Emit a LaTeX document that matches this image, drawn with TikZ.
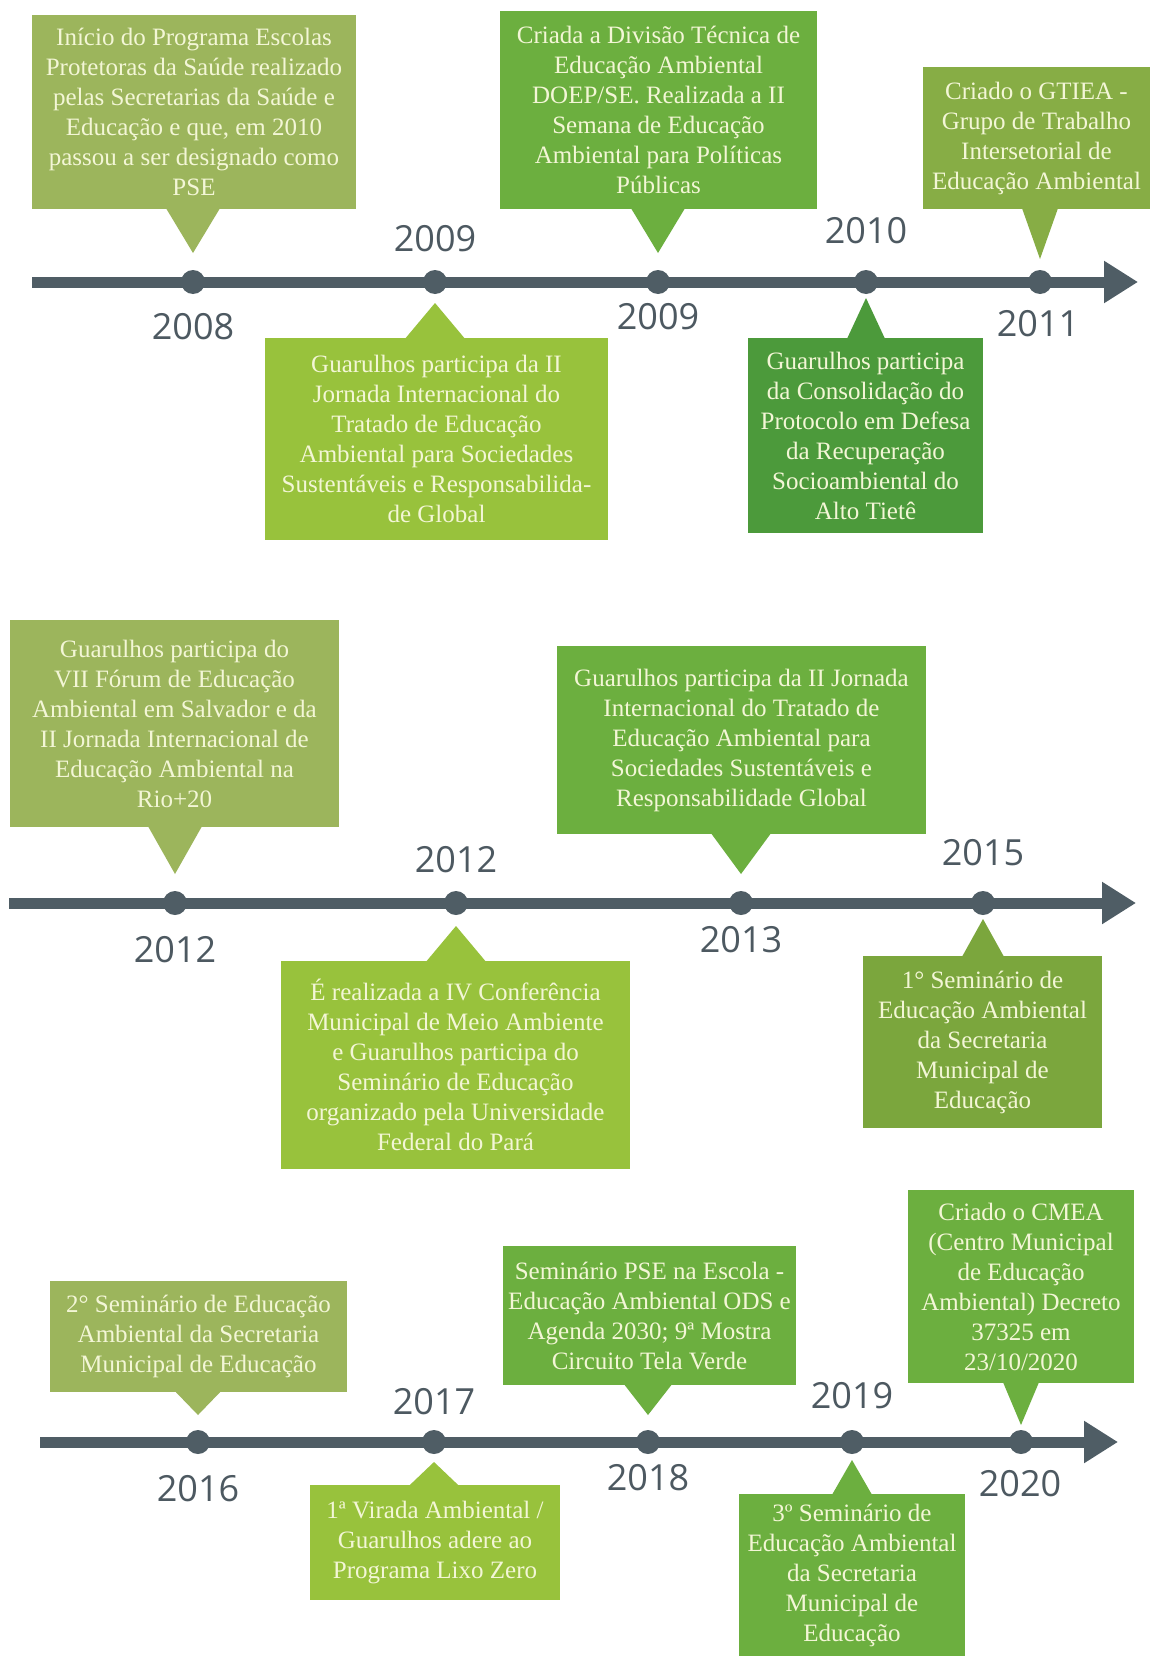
\documentclass[tikz,border=0pt]{standalone}
\usepackage{fontspec}
\setmainfont{Liberation Serif}
\newfontfamily\yearfont{Open Sans}
\usetikzlibrary{arrows.meta,calc}
\definecolor{cOlive}{HTML}{9CB55C}
\definecolor{cLime}{HTML}{98C23C}
\definecolor{cGreen}{HTML}{6CAF3F}
\definecolor{cDark}{HTML}{4C9A3B}
\definecolor{cGtiea}{HTML}{87AD45}
\definecolor{cSem}{HTML}{7BA63D}
\definecolor{cTxt}{HTML}{F3F6D6}
\definecolor{cLine}{HTML}{4F5D65}
\definecolor{cYear}{HTML}{4D5961}
\newcommand\pdown[5]{\fill[#1] ($(#2.south -| #3)+(-#4,-1)$) -- ($(#3)+(0,-#5)$) -- ($(#2.south -| #3)+(#4,-1)$) -- cycle;}
\newcommand\pup[5]{\fill[#1] ($(#2.north -| #3)+(-#4,1)$) -- ($(#3)+(0,#5)$) -- ($(#2.north -| #3)+(#4,1)$) -- cycle;}
\begin{document}
\begin{tikzpicture}[x=1pt,y=-1pt,
  box/.style={rectangle, inner sep=0pt, align=center, text=cTxt, font=\fontsize{25}{30}\selectfont},
  dot/.style={circle, fill=cLine, inner sep=0pt, minimum size=24pt},
  yr/.style={text=cYear, font=\yearfont\fontsize{36}{40}\selectfont, inner sep=0pt},
  tline/.style={line width=11pt, draw=cLine, -{Triangle[length=34pt,width=40pt]}},
]
\fill[white] (0,0) rectangle (1152,1656);
\path[use as bounding box] (0,0) rectangle (1152,1656);

% ---------------- Row 1 ----------------
\coordinate (r1s) at (32,282);
\coordinate (r1e) at (1138,282);
\draw[tline] (r1s) -- (r1e);
\node[dot] (d1) at (193,282) {};
\node[dot] (d2) at (435,282) {};
\node[dot] (d3) at (658,282) {};
\node[dot] (d4) at (866,282) {};
\node[dot] (d5) at (1040,282) {};

\node[box, fill=cOlive, minimum width=324pt, minimum height=194pt] (b1) at (194,112)
 {Início do Programa Escolas\\Protetoras da Saúde realizado\\pelas Secretarias da Saúde e\\Educação e que, em 2010\\passou a ser designado como\\PSE};
\pdown{cOlive}{b1}{d1}{27}{29}
\node[box, fill=cLime, minimum width=343pt, minimum height=202pt] (b2) at (436.5,439)
 {Guarulhos participa da II\\Jornada Internacional do\\Tratado de Educação\\Ambiental para Sociedades\\Sustentáveis e Responsabilida-\\de Global};
\pup{cLime}{b2}{d2}{30}{21}
\node[box, fill=cGreen, minimum width=317pt, minimum height=198pt] (b3) at (658.5,110)
 {Criada a Divisão Técnica de\\Educação Ambiental\\DOEP/SE. Realizada a II\\Semana de Educação\\Ambiental para Políticas\\Públicas};
\pdown{cGreen}{b3}{d3}{27}{29}
\node[box, fill=cDark, minimum width=235pt, minimum height=195pt] (b5) at (865.5,435.5)
 {Guarulhos participa\\da Consolidação do\\Protocolo em Defesa\\da Recuperação\\Socioambiental do\\Alto Tietê};
\pup{cDark}{b5}{d4}{19}{16}
\node[box, fill=cGtiea, minimum width=227pt, minimum height=142pt] (b4) at (1036.5,138)
 {Criado o GTIEA -\\Grupo de Trabalho\\Intersetorial de\\Educação Ambiental};
\pdown{cGtiea}{b4}{d5}{18}{23}

\node[yr] (y1) at (193,327) {2008};
\node[yr] (y2) at (435,239) {2009};
\node[yr] (y3) at (658,317) {2009};
\node[yr] (y4) at (866,231) {2010};
\node[yr] (y5) at (1038,324) {2011};

% ---------------- Row 2 ----------------
\coordinate (r2s) at (9,903);
\coordinate (r2e) at (1136,903);
\draw[tline] (r2s) -- (r2e);
\node[dot] (e1) at (175,903) {};
\node[dot] (e2) at (456,903) {};
\node[dot] (e3) at (741,903) {};
\node[dot] (e4) at (983,903) {};

\node[box, fill=cOlive, minimum width=329pt, minimum height=207pt] (bA) at (174.5,723.5)
 {Guarulhos participa do\\VII Fórum de Educação\\Ambiental em Salvador e da\\II Jornada Internacional de\\Educação Ambiental na\\Rio+20};
\pdown{cOlive}{bA}{e1}{27}{29}
\node[box, fill=cLime, minimum width=349pt, minimum height=208pt] (bB) at (455.5,1065)
 {É realizada a IV Conferência\\Municipal de Meio Ambiente\\e Guarulhos participa do\\Seminário de Educação\\organizado pela Universidade\\Federal do Pará};
\pup{cLime}{bB}{e2}{30}{23}
\node[box, fill=cGreen, minimum width=369pt, minimum height=188pt] (bC) at (741.5,740)
 {Guarulhos participa da II Jornada\\Internacional do Tratado de\\Educação Ambiental para\\Sociedades Sustentáveis e\\Responsabilidade Global};
\pdown{cGreen}{bC}{e3}{30}{29}
\node[box, fill=cSem, minimum width=239pt, minimum height=172pt] (bD) at (982.5,1042)
 {1° Seminário de\\Educação Ambiental\\da Secretaria\\Municipal de\\Educação};
\pup{cSem}{bD}{e4}{21}{16}

\node[yr] (z1) at (175,950) {2012};
\node[yr] (z2) at (456,860) {2012};
\node[yr] (z3) at (741,940) {2013};
\node[yr] (z4) at (983,853) {2015};

% ---------------- Row 3 ----------------
\coordinate (r3s) at (40,1442);
\coordinate (r3e) at (1118,1442);
\draw[tline] (r3s) -- (r3e);
\node[dot] (f1) at (198,1442) {};
\node[dot] (f2) at (434,1442) {};
\node[dot] (f3) at (648,1442) {};
\node[dot] (f4) at (852,1442) {};
\node[dot] (f5) at (1021,1442) {};

\node[box, fill=cOlive, minimum width=297pt, minimum height=111pt] (bE) at (198.5,1336.5)
 {2° Seminário de Educação\\Ambiental da Secretaria\\Municipal de Educação};
\pdown{cOlive}{bE}{f1}{23}{27}
\node[box, fill=cLime, minimum width=250pt, minimum height=115pt] (bF) at (435,1542.5)
 {1ª Virada Ambiental /\\Guarulhos adere ao\\Programa Lixo Zero};
\pup{cLime}{bF}{f2}{25}{20}
\node[box, fill=cGreen, minimum width=293pt, minimum height=139pt] (bG) at (649.5,1315.5)
 {Seminário PSE na Escola -\\Educação Ambiental ODS e\\Agenda 2030; 9ª Mostra\\Circuito Tela Verde};
\pdown{cGreen}{bG}{f3}{24}{27}
\node[box, fill=cGreen, minimum width=226pt, minimum height=162pt] (bH) at (852,1575)
 {3º Seminário de\\Educação Ambiental\\da Secretaria\\Municipal de\\Educação};
\pup{cGreen}{bH}{f4}{20}{18}
\node[box, fill=cGreen, minimum width=226pt, minimum height=193pt] (bI) at (1021,1286.5)
 {Criado o CMEA\\(Centro Municipal\\de Educação\\Ambiental) Decreto\\37325 em\\23/10/2020};
\pdown{cGreen}{bI}{f5}{18}{17}

\node[yr] (w1) at (198,1489) {2016};
\node[yr] (w2) at (434,1402) {2017};
\node[yr] (w3) at (648,1478) {2018};
\node[yr] (w4) at (852,1396) {2019};
\node[yr] (w5) at (1020,1484) {2020};
\end{tikzpicture}
\end{document}
